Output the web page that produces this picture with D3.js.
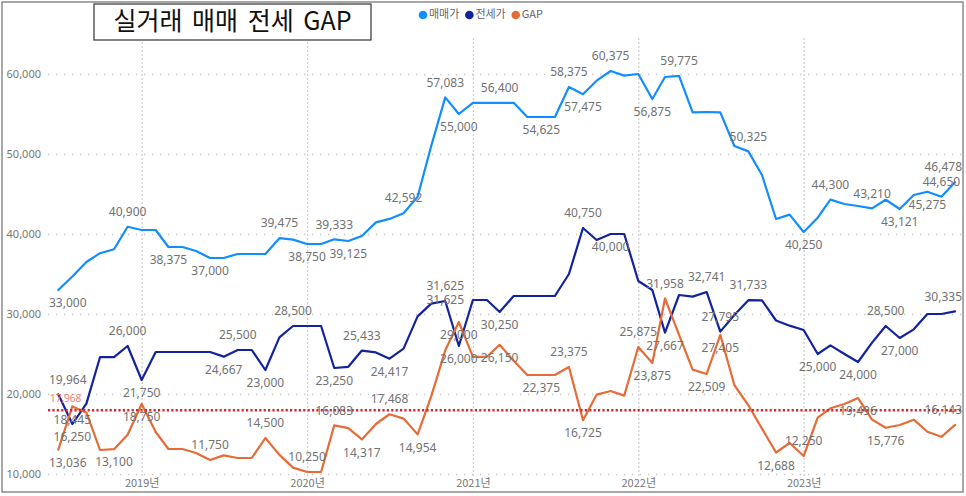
<!DOCTYPE html>
<html><head><meta charset="utf-8">
<script src="https://cdn.jsdelivr.net/npm/d3@7/dist/d3.min.js"></script>
<style>
html,body{margin:0;padding:0;background:#fff;}
svg{display:block;}
</style></head>
<body>
<svg id="chart" width="966" height="496"></svg>
<script>
// ---------- DATA ----------
const title = "실거래 매매 전세 GAP";
const seriesNames = ["매매가", "전세가", "GAP"];
const startMonth = "2018-07";   // first category (monthly)
const monthCount = 66;          // 2018-07 .. 2023-12
const yTicks = [10000, 20000, 30000, 40000, 50000, 60000];
const yearTicks = [2019, 2020, 2021, 2022, 2023];

const sale = [33000,34695,36500,37600,38100,40900,40500,40500,38375,38375,37875,37000,
  37000,37500,37500,37500,39475,39300,38750,38750,39333,39125,39750,41450,41885,42592,
  44654,51000,57083,55000,56400,56400,56400,56400,54625,54625,54625,58375,57475,59167,
  60375,59800,60000,56875,59625,59775,55208,55250,55200,51000,50325,47375,41875,42417,
  40250,42042,44300,43750,43496,43210,44276,43121,44875,45275,44650,46478];
const jeonse = [19964,16250,18800,24600,24600,26000,21750,25250,25250,25250,25250,25250,
  24667,25500,25500,23000,27083,28500,28500,28500,23250,23400,25433,25200,24417,25667,
  29700,31300,31625,26000,31750,31750,30250,32250,32250,32250,32250,35000,40750,39250,
  40000,40000,34125,33000,27667,32375,32167,32741,27795,29875,31733,31700,29187,28542,
  28000,25000,26083,25000,24000,26417,28500,27000,28083,30000,30000,30335];
const gap = [13036,18445,17700,13000,13100,14900,18750,15250,13125,13125,12625,11750,
  12333,12000,12000,14500,12392,10800,10250,10250,16083,15725,14317,16250,17468,16925,
  14954,19700,25458,29000,24650,24650,26150,24150,22375,22375,22375,23375,16725,19917,
  20375,19800,25875,23875,31958,27400,23041,22509,27405,21125,18592,15675,12688,13875,
  12250,17042,18217,18750,19496,16793,15776,16121,16792,15275,14650,16143];
const gapAverage = 17968;

// data-label annotations: [point index, placement] (a = above, b = below, c = on point)
const saleLabels = [[0,"b"],[5,"a"],[8,"b"],[11,"b"],[16,"a"],[18,"b"],[20,"a"],[21,"b"],
  [25,"a"],[28,"a"],[29,"b"],[32,"a"],[35,"b"],[37,"a"],[38,"b"],[40,"a"],[43,"b"],[45,"a"],
  [50,"a"],[54,"b"],[56,"a"],[59,"a"],[61,"b"],[63,"b"],[64,"a"],[65,"a"]];
const jeonseLabels = [[0,"a"],[1,"b"],[5,"a"],[6,"b"],[12,"b"],[13,"a"],[15,"b"],[17,"a"],
  [20,"b"],[22,"a"],[24,"b"],[28,"a"],[28,"c"],[29,"b"],[32,"b"],[38,"a"],[40,"b"],[44,"b"],
  [47,"a"],[48,"a"],[50,"a"],[55,"b"],[58,"b"],[60,"a"],[61,"b"],[65,"a"]];
const gapLabels = [[0,"b"],[1,"b"],[4,"b"],[6,"b"],[11,"a"],[15,"a"],[18,"a"],[20,"a"],
  [22,"b"],[24,"a"],[26,"b"],[29,"b"],[32,"b"],[35,"b"],[37,"a"],[38,"b"],[42,"a"],[43,"b"],
  [44,"a"],[47,"b"],[48,"b"],[52,"b"],[54,"a"],[58,"b"],[60,"b"],[65,"a"]];

const colors = ["#118DFF", "#12239E", "#E66C37"];

// ---------- CHART ----------
const svg = d3.select("#chart");
const plot = {left: 48, right: 962, top: 38, bottom: 476};

const parse = d3.timeParse("%Y-%m");
const months = d3.timeMonth.range(parse(startMonth), d3.timeMonth.offset(parse(startMonth), monthCount));

const x = d3.scaleTime()
  .domain([months[0], months[months.length - 1]])
  .range([58.3, 955]);
const y = d3.scaleLinear().domain([10000, 60000]).range([474, 74]);

// border
svg.append("rect").attr("x", 2).attr("y", 2).attr("width", 961).attr("height", 490)
  .attr("fill", "#fff").attr("stroke", "#8c8c8c").attr("stroke-width", 1.5);

// horizontal gridlines + y labels
const yAxis = d3.axisLeft(y).tickValues(yTicks).tickFormat(d3.format(",")).tickSize(0);
const gy = svg.append("g").attr("transform", `translate(${plot.left},0)`).call(yAxis);
gy.select(".domain").remove();
gy.selectAll("text").attr("x", -7).attr("fill", "#777")
  .style("font-family", "'Noto Sans', sans-serif").style("font-size", "11px");
gy.selectAll(".tick").append("line")
  .attr("x1", 0).attr("x2", plot.right - plot.left)
  .attr("stroke", "#c6c6c6").attr("stroke-width", 1.3).attr("stroke-dasharray", "1.3,6.7");

// vertical gridlines + x labels
const yearDates = yearTicks.map(yy => new Date(yy, 0, 1));
const xAxis = d3.axisBottom(x).tickValues(yearDates).tickFormat(d => d.getFullYear() + "년").tickSize(0);
const gx = svg.append("g").attr("transform", `translate(0,${plot.bottom})`).call(xAxis);
gx.select(".domain").remove();
gx.selectAll("text").attr("y", 3).attr("fill", "#777")
  .style("font-family", "'Noto Sans CJK KR', 'Noto Sans', sans-serif").style("font-size", "11px");
gx.selectAll(".tick").append("line")
  .attr("y1", 0).attr("y2", plot.top - plot.bottom)
  .attr("stroke", "#cfcfcf").attr("stroke-width", 1.3).attr("stroke-dasharray", "2,2");

// lines
const allSeries = [sale, jeonse, gap];
const line = d3.line().x((d, i) => x(months[i])).y(d => y(d));
allSeries.forEach((s, k) => {
  svg.append("path").datum(s).attr("d", line)
    .attr("fill", "none").attr("stroke", colors[k]).attr("stroke-width", 2.2)
    .attr("stroke-linejoin", "round").attr("stroke-linecap", "round");
});

// average line
svg.append("line")
  .attr("x1", plot.left).attr("x2", plot.right)
  .attr("y1", y(gapAverage)).attr("y2", y(gapAverage))
  .attr("stroke", "#D9232E").attr("stroke-width", 2.4).attr("stroke-dasharray", "2.2,2.2");
svg.append("text").attr("x", 50).attr("y", y(gapAverage) - 11)
  .attr("fill", "#EF7B70").style("font-family", "'Noto Sans', sans-serif").style("font-size", "10px")
  .attr("dominant-baseline", "middle")
  .text(d3.format(",")(gapAverage));

// data labels
const fmt = d3.format(",");
const labelSets = [[sale, saleLabels], [jeonse, jeonseLabels], [gap, gapLabels]];
const gl = svg.append("g");
labelSets.forEach(([s, labs]) => {
  labs.forEach(([i, pos]) => {
    const px = x(months[i]), py = y(s[i]);
    const dy = pos === "a" ? -14 : pos === "b" ? 14 : 0;
    const t = gl.append("text")
      .attr("x", px).attr("y", py + dy)
      .attr("text-anchor", "middle").attr("dominant-baseline", "middle")
      .attr("fill", "#727272")
      .style("font-family", "'Noto Sans', sans-serif").style("font-size", "12px")
      .text(fmt(s[i]));
    const w = t.node().getComputedTextLength();
    let cx = px;
    if (cx - w / 2 < 49) cx = 49 + w / 2;
    if (cx + w / 2 > 962) cx = 962 - w / 2;
    t.attr("x", cx);
  });
});

// title box
svg.append("rect").attr("x", 94).attr("y", 4).attr("width", 277).attr("height", 36)
  .attr("fill", "#fff").attr("stroke", "#333").attr("stroke-width", 1.2);
svg.append("text").attr("x", 232.5).attr("y", 23)
  .attr("text-anchor", "middle").attr("dominant-baseline", "middle")
  .attr("fill", "#111")
  .style("font-family", "'Noto Sans CJK KR', sans-serif").style("font-size", "25px")
  .style("word-spacing", "4px")
  .text(title);

// legend
const lg = svg.append("g").attr("transform", "translate(423,15)");
let lx = 0;
seriesNames.forEach((n, k) => {
  const g = lg.append("g").attr("transform", `translate(${lx},0)`);
  g.append("circle").attr("r", 4.3).attr("fill", colors[k]);
  const t = g.append("text").attr("x", 6).attr("dominant-baseline", "middle")
    .attr("fill", "#666")
    .style("font-family", "'Noto Sans CJK KR', sans-serif").style("font-size", "11px")
    .text(n);
  lx += 6 + t.node().getComputedTextLength() + 10;
});
</script>
</body></html>
